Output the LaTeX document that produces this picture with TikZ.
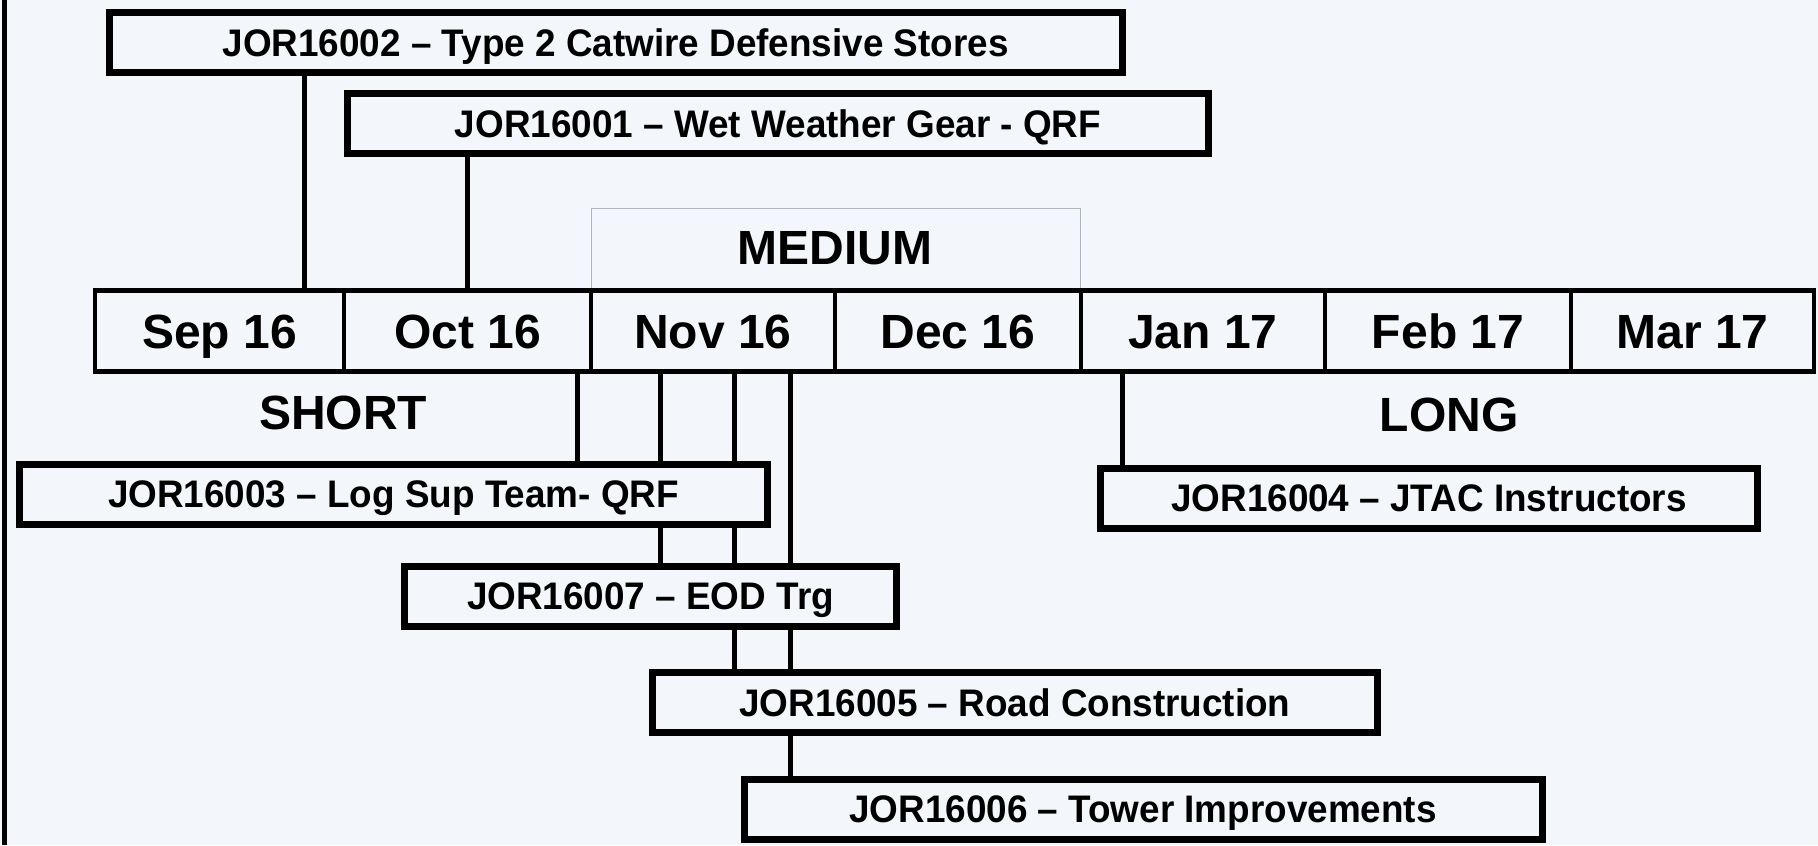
\documentclass[tikz,border=0pt]{standalone}
\usepackage{fontspec}
\setmainfont{Liberation Sans}
\newfontfamily\boxfont{Liberation Sans}[FakeStretch=0.96]
\newfontfamily\monthfont{Liberation Sans}
\pgfdeclarelayer{paper}
\pgfdeclarelayer{background}
\pgfsetlayers{paper,background,main}
\definecolor{paperc}{RGB}{243,247,251}
\definecolor{medline}{RGB}{175,182,190}
\tikzset{
  jbox/.style={draw=black, line width=3.5pt, fill=paperc, rectangle, inner sep=0pt,
    minimum height=30pt, text height=13.75pt, text depth=0pt,
    font=\boxfont\bfseries\fontsize{19.2}{22}\selectfont},
  mcell/.style={draw=black, line width=2.2pt, fill=paperc, rectangle, inner sep=0pt,
    minimum height=40.5pt, text height=17.2pt, text depth=0pt,
    font=\monthfont\bfseries\fontsize{24}{28}\selectfont},
  term/.style={inner sep=0pt, text height=17.2pt, text depth=0pt,
    font=\monthfont\bfseries\fontsize{24}{28}\selectfont},
  conn/.style={line width=2.5pt, draw=black},
}
\begin{document}
\begin{tikzpicture}[x=0.5pt, y=-0.5pt]
\useasboundingbox (0,0) rectangle (1818,845);
\begin{pgfonlayer}{paper}
  \fill[paperc] (0,0) rectangle (1818,845);
\end{pgfonlayer}
% left page edge
\draw[line width=2.5pt] (4,0) -- (4,845);

% MEDIUM frame
\node[draw=medline, line width=0.6pt, inner sep=0pt, minimum width=244.5pt, minimum height=40.6pt] (medframe) at (836,249.3) {};
\node[term] (medium) at (835,247) {MEDIUM};

% month row
\node[mcell, minimum width=124.5pt] (sep) at (219.5,331) {Sep 16};
\node[mcell, minimum width=123.5pt] (oct) at (467.5,331) {Oct 16};
\node[mcell, minimum width=122pt] (nov) at (713,331) {Nov 16};
\node[mcell, minimum width=123pt] (dec) at (958,331) {Dec 16};
\node[mcell, minimum width=122pt] (jan) at (1203,331) {Jan 17};
\node[mcell, minimum width=123pt] (feb) at (1448,331) {Feb 17};
\node[mcell, minimum width=121.5pt] (mar) at (1692.5,331) {Mar 17};

\node[term] (short) at (343,412) {SHORT};
\node[term] (long) at (1449,414) {LONG};

% project boxes
\node[jbox, minimum width=506.5pt] (b2) at (615.6,43) {JOR16002 – Type 2 Catwire Defensive Stores};
\node[jbox, minimum width=430.5pt] (b1) at (778,124) {JOR16001 – Wet Weather Gear - QRF};
\node[jbox, minimum width=374pt] (b3) at (393.6,494) {JOR16003 – Log Sup Team- QRF};
\node[jbox, minimum width=246pt] (b7) at (650.5,596) {JOR16007 – EOD Trg};
\node[jbox, minimum width=362.5pt] (b5) at (1015,702.6) {JOR16005 – Road Construction};
\node[jbox, minimum width=399pt] (b6) at (1143,809) {JOR16006 – Tower Improvements};
\node[jbox, minimum width=328.5pt] (b4) at (1429,498) {JOR16004 – JTAC Instructors};

% connector x positions
\coordinate (x2) at (304,0);
\coordinate (x1) at (467,0);
\coordinate (x3) at (577,0);
\coordinate (x7) at (660,0);
\coordinate (x5) at (734,0);
\coordinate (x6) at (790,0);
\coordinate (x4) at (1122,0);

\begin{pgfonlayer}{background}
  \draw[conn] (b2.south -| x2) -- (sep.north -| x2);
  \draw[conn] (b1.south -| x1) -- (oct.north -| x1);
  \draw[conn] (nov.south -| x3) -- (b3.north -| x3);
  \draw[conn] (nov.south -| x7) -- (b7.north -| x7);
  \draw[conn] (nov.south -| x5) -- (b5.north -| x5);
  \draw[conn] (nov.south -| x6) -- (b6.north -| x6);
  \draw[conn] (jan.south -| x4) -- (b4.north -| x4);
\end{pgfonlayer}
\end{tikzpicture}
\end{document}
